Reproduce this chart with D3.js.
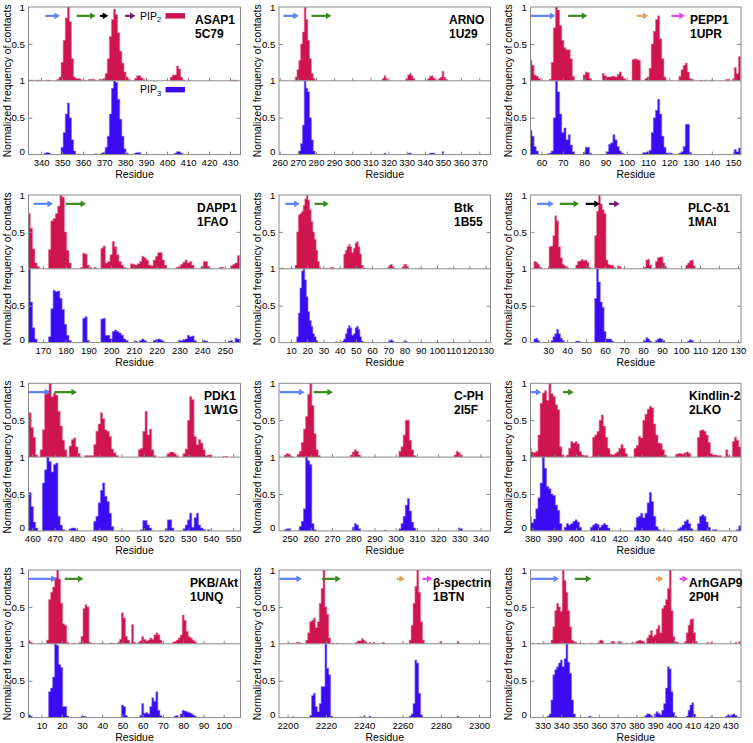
<!DOCTYPE html>
<html><head><meta charset="utf-8">
<script src="https://cdn.jsdelivr.net/npm/d3@7/dist/d3.min.js"></script>
<style>
body{margin:0;background:#fff}
text{font-family:"Liberation Sans",Arial,Helvetica,sans-serif}
</style>
</head><body>
<svg id="c" width="753" height="743" xmlns="http://www.w3.org/2000/svg"></svg>
<script>
// ---------------- DATA ----------------
// [residue, normalized frequency]
const ASAP1_PIP2 = [[335,0.01],[336,0.01],[338,0.01],[339,0.01],[343,0.01],[344,0.01],[348,0.02],[349,0.05],[350,0.25],[351,0.55],[352,0.85],[353,1.0],[354,0.8],[355,0.3],[356,0.05],[357,0.03],[358,0.03],[359,0.02],[361,0.01],[363,0.02],[364,0.02],[365,0.02],[366,0.01],[368,0.02],[369,0.02],[370,0.03],[371,0.1],[372,0.3],[373,0.6],[374,0.83],[375,0.97],[376,0.9],[377,0.65],[378,0.4],[379,0.24],[380,0.12],[381,0.05],[382,0.02],[385,0.03],[386,0.07],[387,0.07],[388,0.04],[389,0.02],[402,0.05],[403,0.08],[404,0.08],[405,0.2],[406,0.16],[407,0.05],[408,0.01],[431,0.01],[432,0.01],[433,0.01]];
const ASAP1_PIP3 = [[342,0.02],[343,0.03],[344,0.02],[350,0.1],[351,0.3],[352,0.55],[353,0.7],[354,0.5],[355,0.2],[356,0.05],[366,0.01],[369,0.02],[370,0.03],[371,0.1],[372,0.25],[373,0.55],[374,0.9],[375,1.0],[376,0.98],[377,0.75],[378,0.48],[379,0.25],[380,0.08],[381,0.02],[385,0.02],[386,0.03],[387,0.03],[404,0.02],[405,0.04],[406,0.04],[407,0.02]];

const ARNO_PIP2 = [[269,0.05],[270,0.15],[271,0.28],[272,0.5],[273,0.66],[274,1.0],[275,0.83],[276,0.55],[277,0.3],[278,0.1],[279,0.03],[317,0.03],[318,0.07],[319,0.03],[330,0.03],[331,0.08],[332,0.1],[333,0.07],[334,0.03],[342,0.03],[343,0.06],[344,0.07],[345,0.04],[346,0.02],[348,0.03],[349,0.05],[350,0.13],[351,0.05],[352,0.02]];
const ARNO_PIP3 = [[271,0.05],[272,0.15],[273,0.4],[274,1.0],[275,0.9],[276,0.85],[277,0.5],[278,0.2],[279,0.05],[318,0.02],[331,0.02],[332,0.02],[343,0.02],[344,0.02],[345,0.02],[350,0.04]];

const PEPP1_PIP2 = [[55,0.28],[56,0.21],[57,0.08],[58,0.06],[59,0.03],[64,0.02],[65,0.25],[66,0.72],[67,1.0],[68,0.96],[69,0.75],[70,0.55],[71,0.45],[72,0.42],[73,0.42],[74,0.3],[75,0.06],[80,0.08],[81,0.12],[82,0.11],[83,0.03],[89,0.1],[90,0.07],[91,0.05],[92,0.05],[93,0.06],[94,0.06],[95,0.05],[96,0.09],[97,0.12],[98,0.06],[99,0.03],[103,0.29],[104,0.3],[105,0.29],[106,0.28],[109,0.03],[110,0.05],[111,0.17],[112,0.5],[113,0.67],[114,0.83],[115,0.88],[116,0.57],[117,0.3],[118,0.05],[125,0.06],[126,0.15],[127,0.21],[128,0.24],[129,0.12],[130,0.03],[131,0.02],[135,0.01],[137,0.01],[140,0.01],[147,0.02],[148,0.02],[150,0.02],[151,0.18],[152,0.1],[153,0.33]];
const PEPP1_PIP3 = [[55,0.33],[56,0.25],[57,0.11],[58,0.05],[63,0.01],[64,0.02],[65,0.05],[66,0.5],[67,1.0],[68,0.85],[69,0.55],[70,0.3],[71,0.36],[72,0.2],[73,0.27],[74,0.13],[75,0.04],[80,0.03],[81,0.1],[82,0.1],[83,0.02],[91,0.04],[92,0.14],[93,0.16],[94,0.27],[95,0.2],[96,0.11],[97,0.05],[98,0.02],[108,0.03],[109,0.03],[110,0.04],[111,0.06],[112,0.3],[113,0.5],[114,0.6],[115,0.75],[116,0.55],[117,0.25],[118,0.1],[119,0.02],[120,0.02],[121,0.02],[125,0.02],[126,0.04],[127,0.11],[128,0.41],[129,0.41],[130,0.03],[151,0.07],[152,0.04],[153,0.09]];

const DAPP1_PIP2 = [[164,0.75],[165,0.55],[166,0.27],[167,0.08],[168,0.03],[173,0.26],[174,0.65],[175,0.68],[176,0.75],[177,0.85],[178,1.0],[179,0.97],[180,0.5],[181,0.25],[182,0.08],[187,0.02],[188,0.21],[189,0.2],[190,0.05],[191,0.02],[193,0.02],[196,0.28],[197,0.31],[198,0.08],[199,0.1],[200,0.19],[201,0.37],[202,0.3],[203,0.19],[204,0.1],[205,0.05],[206,0.02],[209,0.07],[210,0.06],[211,0.05],[212,0.07],[213,0.1],[214,0.17],[215,0.15],[216,0.12],[217,0.05],[218,0.04],[219,0.12],[220,0.17],[221,0.22],[222,0.22],[223,0.12],[224,0.05],[229,0.02],[230,0.03],[231,0.06],[232,0.09],[233,0.12],[234,0.08],[235,0.1],[236,0.05],[240,0.03],[241,0.1],[242,0.1],[243,0.03],[248,0.02],[249,0.02],[253,0.04],[254,0.06],[255,0.08],[256,0.18]];
const DAPP1_PIP3 = [[164,1.0],[165,0.55],[166,0.2],[167,0.05],[173,0.08],[174,0.46],[175,0.71],[176,0.69],[177,0.7],[178,0.6],[179,0.45],[180,0.25],[181,0.1],[182,0.03],[188,0.33],[189,0.35],[190,0.03],[196,0.32],[197,0.33],[198,0.1],[199,0.1],[200,0.05],[201,0.15],[202,0.17],[203,0.15],[204,0.13],[205,0.1],[206,0.05],[207,0.03],[211,0.02],[213,0.03],[214,0.05],[215,0.03],[219,0.03],[220,0.04],[221,0.05],[222,0.04],[223,0.02],[230,0.03],[231,0.03],[232,0.04],[233,0.05],[234,0.1],[235,0.08],[236,0.09],[237,0.03],[241,0.03],[242,0.02],[252,0.02],[253,0.03],[255,0.06],[256,0.05]];

const BTK_PIP2 = [[3,0.01],[4,0.01],[5,0.01],[13,0.05],[14,0.5],[15,0.73],[16,0.75],[17,0.78],[18,0.86],[19,0.95],[20,1.0],[21,0.93],[22,0.8],[23,0.64],[24,0.5],[25,0.4],[26,0.25],[27,0.1],[28,0.02],[32,0.01],[34,0.01],[35,0.02],[36,0.02],[43,0.2],[44,0.25],[45,0.3],[46,0.33],[47,0.3],[48,0.22],[49,0.28],[50,0.35],[51,0.37],[52,0.3],[53,0.2],[54,0.05],[55,0.01],[70,0.02],[71,0.05],[72,0.06],[73,0.03],[79,0.03],[80,0.06],[81,0.06],[82,0.03],[90,0.01],[108,0.01]];
const BTK_PIP3 = [[14,0.08],[15,0.4],[16,0.74],[17,0.97],[18,1.0],[19,0.85],[20,0.62],[21,0.42],[22,0.3],[23,0.22],[24,0.12],[25,0.08],[26,0.03],[38,0.01],[42,0.02],[43,0.05],[44,0.12],[45,0.19],[46,0.23],[47,0.2],[48,0.1],[49,0.12],[50,0.2],[51,0.22],[52,0.18],[53,0.08],[54,0.02],[71,0.03],[72,0.04],[73,0.02],[80,0.02],[81,0.02]];

const PLC_PIP2 = [[23,0.1],[24,0.09],[25,0.06],[26,0.02],[31,0.3],[32,0.31],[33,0.45],[34,0.72],[35,0.65],[36,0.3],[37,0.15],[38,0.06],[39,0.04],[40,0.02],[45,0.05],[46,0.1],[47,0.11],[48,0.13],[49,0.11],[50,0.12],[51,0.09],[52,0.02],[55,0.45],[56,0.78],[57,1.0],[58,0.88],[59,0.8],[60,0.75],[61,0.12],[62,0.06],[63,0.05],[64,0.05],[65,0.02],[67,0.04],[68,0.03],[81,0.02],[82,0.12],[83,0.13],[84,0.05],[87,0.1],[88,0.15],[89,0.16],[90,0.16],[91,0.08],[92,0.03],[103,0.05],[104,0.08],[105,0.11],[106,0.12],[107,0.04],[110,0.01]];
const PLC_PIP3 = [[23,0.05],[24,0.06],[25,0.03],[32,0.03],[33,0.08],[34,0.12],[35,0.18],[36,0.12],[37,0.06],[38,0.03],[45,0.02],[46,0.02],[47,0.01],[55,0.6],[56,1.0],[57,0.82],[58,0.55],[59,0.48],[60,0.15],[61,0.05],[62,0.05],[63,0.05],[64,0.02],[81,0.03],[82,0.07],[83,0.05],[84,0.02],[87,0.03],[88,0.05],[89,0.06],[90,0.05],[91,0.03],[104,0.02],[105,0.04],[106,0.03]];

const PDK1_PIP2 = [[459,0.6],[460,0.4],[461,0.27],[462,0.03],[464,0.1],[465,0.37],[466,0.87],[467,0.9],[468,1.0],[469,0.82],[470,0.87],[471,0.84],[472,0.62],[473,0.42],[474,0.23],[475,0.1],[477,0.15],[478,0.24],[479,0.26],[480,0.14],[481,0.05],[484,0.02],[485,0.02],[486,0.02],[487,0.02],[488,0.17],[489,0.35],[490,0.45],[491,0.6],[492,0.52],[493,0.37],[494,0.35],[495,0.28],[496,0.11],[497,0.06],[498,0.02],[508,0.1],[509,0.12],[510,0.35],[511,0.62],[512,0.3],[513,0.38],[514,0.1],[515,0.02],[521,0.05],[522,0.07],[523,0.07],[524,0.05],[525,0.02],[528,0.05],[529,0.11],[530,0.5],[531,0.82],[532,0.78],[533,0.28],[534,0.17],[535,0.24],[536,0.19],[537,0.1],[538,0.02],[539,0.03],[540,0.03],[546,0.01],[547,0.01]];
const PDK1_PIP3 = [[459,0.52],[460,0.33],[461,0.12],[462,0.04],[465,0.65],[466,0.83],[467,1.0],[468,0.94],[469,0.8],[470,0.9],[471,0.92],[472,0.2],[473,0.08],[474,0.02],[477,0.03],[478,0.04],[479,0.04],[480,0.02],[488,0.13],[489,0.2],[490,0.38],[491,0.55],[492,0.65],[493,0.47],[494,0.4],[495,0.24],[496,0.06],[509,0.02],[510,0.14],[511,0.14],[512,0.08],[513,0.04],[520,0.03],[521,0.15],[522,0.15],[523,0.04],[528,0.03],[529,0.08],[530,0.15],[531,0.24],[532,0.05],[533,0.18],[534,0.24],[535,0.08],[536,0.04],[537,0.02],[539,0.02]];

const CPH_PIP2 = [[248,0.03],[249,0.05],[250,0.04],[251,0.01],[254,0.04],[255,0.08],[256,0.2],[257,0.38],[258,0.55],[259,0.85],[260,1.0],[261,0.7],[262,0.32],[263,0.1],[264,0.02],[279,0.03],[280,0.07],[281,0.1],[282,0.08],[283,0.03],[302,0.08],[303,0.14],[304,0.3],[305,0.5],[306,0.5],[307,0.23],[308,0.1],[309,0.02],[328,0.03],[329,0.08],[330,0.06],[331,0.03]];
const CPH_PIP3 = [[248,0.02],[249,0.03],[250,0.03],[255,0.06],[256,0.13],[257,0.3],[258,1.0],[259,0.95],[260,0.9],[261,0.1],[262,0.02],[280,0.05],[281,0.1],[282,0.08],[283,0.03],[295,0.01],[302,0.03],[303,0.1],[304,0.2],[305,0.35],[306,0.44],[307,0.27],[308,0.12],[309,0.04],[330,0.04],[331,0.03]];

const KINDLIN_PIP2 = [[379,0.12],[380,0.07],[381,0.06],[382,0.08],[383,0.3],[384,0.73],[385,0.87],[386,0.9],[387,0.77],[388,1.0],[389,0.86],[390,0.82],[391,0.71],[392,0.64],[393,0.14],[394,0.03],[396,0.03],[397,0.12],[398,0.21],[399,0.19],[400,0.21],[401,0.18],[402,0.08],[403,0.03],[404,0.02],[405,0.02],[408,0.27],[409,0.3],[410,0.35],[411,0.5],[412,0.57],[413,0.42],[414,0.27],[415,0.12],[416,0.04],[417,0.03],[418,0.05],[419,0.07],[420,0.12],[421,0.17],[422,0.12],[423,0.05],[427,0.12],[428,0.16],[429,0.28],[430,0.26],[431,0.5],[432,0.58],[433,0.65],[434,0.69],[435,0.67],[436,0.45],[437,0.3],[438,0.19],[439,0.18],[440,0.1],[441,0.03],[446,0.04],[447,0.05],[448,0.05],[449,0.04],[450,0.06],[451,0.07],[452,0.05],[456,0.27],[457,0.36],[458,0.37],[459,0.35],[460,0.3],[461,0.2],[462,0.05],[463,0.03],[464,0.03],[465,0.02],[466,0.02],[469,0.1],[470,0.02],[472,0.21],[473,0.27],[474,0.23],[475,0.14]];
const KINDLIN_PIP3 = [[379,0.2],[380,0.11],[381,0.16],[382,0.3],[383,0.45],[384,0.65],[385,1.0],[386,0.85],[387,0.6],[388,0.57],[389,0.5],[390,0.48],[391,0.35],[392,0.28],[393,0.1],[395,0.05],[396,0.1],[397,0.08],[398,0.1],[399,0.13],[400,0.15],[401,0.12],[402,0.05],[407,0.05],[408,0.08],[409,0.1],[410,0.09],[411,0.05],[412,0.08],[413,0.1],[414,0.08],[415,0.04],[427,0.05],[428,0.18],[429,0.2],[430,0.24],[431,0.18],[432,0.24],[433,0.38],[434,0.52],[435,0.4],[436,0.2],[437,0.06],[438,0.02],[447,0.03],[448,0.05],[449,0.08],[450,0.13],[451,0.15],[452,0.1],[453,0.03],[456,0.1],[457,0.2],[458,0.22],[459,0.2],[460,0.12],[461,0.05],[463,0.02],[464,0.02],[474,0.02],[475,0.07]];

const PKB_PIP2 = [[4,0.04],[5,0.02],[13,0.05],[14,0.6],[15,0.7],[16,0.77],[17,0.9],[18,1.0],[19,0.88],[20,0.55],[21,0.27],[22,0.25],[23,0.02],[26,0.01],[29,0.02],[30,0.1],[31,0.48],[32,0.53],[33,0.5],[34,0.02],[40,0.01],[44,0.01],[45,0.01],[48,0.02],[49,0.06],[50,0.42],[51,0.35],[52,0.1],[53,0.05],[54,0.01],[55,0.26],[56,0.02],[58,0.02],[59,0.04],[60,0.1],[61,0.06],[62,0.04],[63,0.05],[64,0.08],[65,0.06],[66,0.12],[67,0.15],[68,0.12],[69,0.05],[75,0.02],[76,0.03],[77,0.05],[78,0.08],[79,0.12],[80,0.39],[81,0.32],[82,0.17],[83,0.1],[84,0.08],[85,0.05],[86,0.03]];
const PKB_PIP3 = [[4,0.04],[5,0.02],[14,0.35],[15,0.4],[16,0.55],[17,1.0],[18,0.98],[19,0.72],[20,0.68],[21,0.15],[22,0.15],[23,0.02],[30,0.02],[31,0.02],[32,0.01],[50,0.17],[51,0.15],[52,0.03],[59,0.03],[60,0.19],[61,0.06],[62,0.07],[63,0.05],[64,0.15],[65,0.27],[66,0.22],[67,0.35],[68,0.1],[69,0.03],[76,0.02],[77,0.03],[79,0.05],[80,0.1],[81,0.09],[82,0.08],[83,0.07],[84,0.06],[85,0.04],[86,0.02]];

const BSPEC_PIP2 = [[2201,0.01],[2203,0.01],[2205,0.02],[2206,0.02],[2207,0.01],[2210,0.05],[2211,0.15],[2212,0.3],[2213,0.32],[2214,0.35],[2215,0.22],[2216,0.3],[2217,0.55],[2218,0.75],[2219,1.0],[2220,0.5],[2221,0.4],[2222,0.08],[2224,0.01],[2226,0.01],[2236,0.02],[2237,0.04],[2238,0.04],[2239,0.07],[2240,0.05],[2241,0.03],[2243,0.02],[2245,0.02],[2250,0.02],[2264,0.05],[2265,0.25],[2266,0.55],[2267,0.78],[2268,1.0],[2269,0.7],[2270,0.3],[2271,0.05],[2280,0.03],[2289,0.03]];
const BSPEC_PIP3 = [[2203,0.01],[2212,0.03],[2213,0.3],[2214,0.33],[2215,0.15],[2216,0.08],[2217,0.19],[2218,0.42],[2219,0.42],[2220,1.0],[2221,0.67],[2222,0.58],[2223,0.02],[2238,0.01],[2240,0.02],[2243,0.02],[2264,0.02],[2265,0.05],[2266,0.19],[2267,0.78],[2268,0.74],[2269,0.33],[2270,0.04],[2289,0.02]];

const ARHGAP9_PIP2 = [[325,0.01],[328,0.01],[331,0.01],[333,0.01],[335,0.05],[336,0.23],[337,0.45],[338,0.55],[339,0.5],[340,0.44],[341,1.0],[342,0.86],[343,0.7],[344,0.45],[345,0.23],[346,0.05],[347,0.03],[348,0.02],[350,0.01],[352,0.01],[356,0.01],[360,0.02],[361,0.05],[362,0.04],[365,0.01],[367,0.03],[368,0.03],[371,0.03],[372,0.02],[375,0.01],[378,0.02],[380,0.03],[381,0.04],[382,0.05],[383,0.04],[384,0.03],[386,0.08],[387,0.12],[388,0.18],[389,0.1],[390,0.12],[391,0.2],[392,0.25],[393,0.15],[394,0.48],[395,0.52],[396,0.6],[397,0.75],[398,1.0],[399,0.45],[400,0.1],[401,0.03],[402,0.02],[406,0.03],[407,0.15],[408,0.25],[409,0.33],[410,0.34],[411,0.15],[412,0.03],[418,0.02],[420,0.02],[433,0.02],[435,0.03]];
const ARHGAP9_PIP3 = [[333,0.02],[334,0.05],[335,0.24],[336,0.58],[337,0.65],[338,0.69],[339,0.74],[340,0.78],[341,0.69],[342,0.8],[343,1.0],[344,0.75],[345,0.6],[346,0.24],[347,0.05],[355,0.02],[356,0.01],[385,0.03],[386,0.05],[387,0.05],[388,0.03],[390,0.05],[391,0.08],[392,0.06],[393,0.04],[394,0.1],[395,0.19],[396,0.4],[397,0.69],[398,0.66],[399,0.35],[400,0.07],[401,0.02],[407,0.02],[408,0.1],[409,0.17],[410,0.2],[411,0.05],[420,0.01],[428,0.02],[429,0.04],[430,0.02],[431,0.04],[432,0.05],[433,0.03],[434,0.01]];

// residue ranges of beta strands drawn as arrows [start, end, strand]
const ASAP1_STRANDS = [[342,349,"b1"],[357,366,"b2"],[368,372,"b3"],[380,385,"b4"]];
const ARNO_STRANDS = [[262,270.5,"b1"],[277.5,288.5,"b2"]];
const PEPP1_STRANDS = [[55,66.5,"b1"],[72.5,81.5,"b2"],[104.7,110.2,"b5"],[121,127.3,"b6"]];
const DAPP1_STRANDS = [[166,174.5,"b1"],[180,189,"b2"]];
const BTK_STRANDS = [[6.5,15.4,"b1"],[24.5,33.3,"b2"]];
const PLC_STRANDS = [[24.2,33,"b1"],[36.1,46.3,"b2"],[49.8,57.2,"b3"],[62.1,67.7,"b4"]];
const PDK1_STRANDS = [[458.3,468,"b1"],[469.9,480,"b2"]];
const CPH_STRANDS = [[245.3,257,"b1"],[261.3,270.4,"b2"]];
const KINDLIN_STRANDS = [[379.1,384.1,"b1"],[394,398.9,"b2"]];
const PKB_STRANDS = [[3.7,17.5,"b1"],[21.5,30.7,"b2"]];
const BSPEC_STRANDS = [[2195.8,2207.5,"b1"],[2218,2227.8,"b2"],[2257,2261.3,"b5"],[2270.5,2275.7,"b6"]];
const ARHGAP9_STRANDS = [[323.6,338.8,"b1"],[347.2,356,"b2"],[390.3,394.5,"b5"],[403,407.5,"b6"]];

// axis extents and tick labels
const ASAP1_X = [334,435],      ASAP1_TICKS = [340,350,360,370,380,390,400,410,420,430];
const ARNO_X = [259.6,376.2],   ARNO_TICKS = [260,270,280,290,300,310,320,330,340,350,360,370];
const PEPP1_X = [54.8,153.7],   PEPP1_TICKS = [60,70,80,90,100,110,120,130,140,150];
const DAPP1_X = [163.7,256.9],  DAPP1_TICKS = [170,180,190,200,210,220,230,240,250];
const BTK_X = [2.6,133],        BTK_TICKS = [10,20,30,40,50,60,70,80,90,100,110,120,130];
const PLC_X = [20.7,131.6],     PLC_TICKS = [30,40,50,60,70,80,90,100,110,120,130];
const PDK1_X = [458.3,553.3],   PDK1_TICKS = [460,470,480,490,500,510,520,530,540,550];
const CPH_X = [245,344.7],      CPH_TICKS = [250,260,270,280,290,300,310,320,330,340];
const KINDLIN_X = [379.1,475.5],KINDLIN_TICKS = [380,390,400,410,420,430,440,450,460,470];
const PKB_X = [3.6,108.3],      PKB_TICKS = [10,20,30,40,50,60,70,80,90,100];
const BSPEC_X = [2195.5,2306],  BSPEC_TICKS = [2200,2220,2240,2260,2280,2300];
const ARHGAP9_X = [323.6,435.7],ARHGAP9_TICKS = [330,340,350,360,370,380,390,400,410,420,430];

const NAMES = ["ASAP1","ARNO","PEPP1","DAPP1","Btk","PLC-δ1","PDK1","C-PH","Kindlin-2","PKB/Akt","β-spectrin","ArhGAP9"];
const PDB = ["5C79","1U29","1UPR","1FAO","1B55","1MAI","1W1G","2I5F","2LKO","1UNQ","1BTN","2P0H"];
const Y_TICKS_TOP = [0.5, 1];
const Y_TICKS_BOTTOM = [0, 0.5, 1];

const panels = [
  {pip2:ASAP1_PIP2, pip3:ASAP1_PIP3, strands:ASAP1_STRANDS, x:ASAP1_X, ticks:ASAP1_TICKS},
  {pip2:ARNO_PIP2, pip3:ARNO_PIP3, strands:ARNO_STRANDS, x:ARNO_X, ticks:ARNO_TICKS},
  {pip2:PEPP1_PIP2, pip3:PEPP1_PIP3, strands:PEPP1_STRANDS, x:PEPP1_X, ticks:PEPP1_TICKS},
  {pip2:DAPP1_PIP2, pip3:DAPP1_PIP3, strands:DAPP1_STRANDS, x:DAPP1_X, ticks:DAPP1_TICKS},
  {pip2:BTK_PIP2, pip3:BTK_PIP3, strands:BTK_STRANDS, x:BTK_X, ticks:BTK_TICKS},
  {pip2:PLC_PIP2, pip3:PLC_PIP3, strands:PLC_STRANDS, x:PLC_X, ticks:PLC_TICKS},
  {pip2:PDK1_PIP2, pip3:PDK1_PIP3, strands:PDK1_STRANDS, x:PDK1_X, ticks:PDK1_TICKS},
  {pip2:CPH_PIP2, pip3:CPH_PIP3, strands:CPH_STRANDS, x:CPH_X, ticks:CPH_TICKS},
  {pip2:KINDLIN_PIP2, pip3:KINDLIN_PIP3, strands:KINDLIN_STRANDS, x:KINDLIN_X, ticks:KINDLIN_TICKS},
  {pip2:PKB_PIP2, pip3:PKB_PIP3, strands:PKB_STRANDS, x:PKB_X, ticks:PKB_TICKS},
  {pip2:BSPEC_PIP2, pip3:BSPEC_PIP3, strands:BSPEC_STRANDS, x:BSPEC_X, ticks:BSPEC_TICKS},
  {pip2:ARHGAP9_PIP2, pip3:ARHGAP9_PIP3, strands:ARHGAP9_STRANDS, x:ARHGAP9_X, ticks:ARHGAP9_TICKS}
];

// ---------------- STYLE / LAYOUT ----------------
const RED = "#cf1550", RED_EDGE = "#e77a98", BLUE = "#3a0cf2", BLUE_EDGE = "#8a78f6", FRAME = "#8a8a8a";
const STRAND_COLORS = {b1:"#5f82f5", b2:"#3b8a1e", b3:"#000000", b4:"#6d1f6d", b5:"#e6a05c", b6:"#e645e6"};
const COLS = [[28.5,240.5],[279,490.5],[530.5,741]];
const TITLE_X = [7, 257, 508];
const ROW_TOPS = [7, 195, 383.3, 570];
const H = 73.8;
const LABEL_X = [195,449,690,197,454,688,204,454,689,190,433,689];
const ARROW_LEVEL = 0.88;

const svg = d3.select("#c");
const defs = svg.append("defs");

// one step-outline polygon per run of consecutive residues
function stepPath(data, x, y, base) {
  const pts = data.slice().sort((a, b) => a[0] - b[0]);
  const pth = d3.path();
  let i = 0;
  while (i < pts.length) {
    let j = i;
    while (j + 1 < pts.length && pts[j + 1][0] === pts[j][0] + 1) j++;
    pth.moveTo(x(pts[i][0] - 0.5), base);
    for (let k = i; k <= j; k++) {
      pth.lineTo(x(pts[k][0] - 0.5), y(pts[k][1]));
      pth.lineTo(x(pts[k][0] + 0.5), y(pts[k][1]));
    }
    pth.lineTo(x(pts[j][0] + 0.5), base);
    pth.closePath();
    i = j + 1;
  }
  return pth.toString();
}

panels.forEach((p, i) => {
  const col = i % 3, row = Math.floor(i / 3);
  const [x0, x1] = COLS[col];
  const top = ROW_TOPS[row], div = top + H, bot = div + H;
  const x = d3.scaleLinear().domain(p.x).range([x0, x1]);
  const yT = d3.scaleLinear().domain([0, 1]).range([div, top]);
  const yB = d3.scaleLinear().domain([0, 1]).range([bot, div]);
  const g = svg.append("g");

  defs.append("clipPath").attr("id", "clipT" + i).append("rect")
    .attr("x", x0).attr("y", top).attr("width", x1 - x0).attr("height", H);
  defs.append("clipPath").attr("id", "clipB" + i).append("rect")
    .attr("x", x0).attr("y", div).attr("width", x1 - x0).attr("height", H);

  g.append("path").attr("clip-path", `url(#clipT${i})`)
    .attr("d", stepPath(p.pip2, x, yT, div))
    .attr("fill", RED).attr("stroke", RED_EDGE).attr("stroke-width", 0.6).attr("stroke-linejoin", "miter");
  g.append("path").attr("clip-path", `url(#clipB${i})`)
    .attr("d", stepPath(p.pip3, x, yB, bot))
    .attr("fill", BLUE).attr("stroke", BLUE_EDGE).attr("stroke-width", 0.6).attr("stroke-linejoin", "miter");

  // frames
  g.append("rect").attr("x", x0).attr("y", top).attr("width", x1 - x0).attr("height", bot - top)
    .attr("fill", "none").attr("stroke", FRAME).attr("stroke-width", 1);
  g.append("line").attr("x1", x0).attr("x2", x1).attr("y1", div).attr("y2", div)
    .attr("stroke", FRAME).attr("stroke-width", 1);

  // x axis (bottom)
  const xa = g.append("g").attr("transform", `translate(0,${bot})`)
    .call(d3.axisBottom(x).tickValues(p.ticks).tickFormat(d => d).tickSizeInner(-3).tickSizeOuter(0).tickPadding(4.5));
  xa.select(".domain").remove();
  xa.selectAll(".tick line").attr("stroke", FRAME);
  xa.selectAll("text").attr("font-size", 9.5).attr("fill", "#000");
  const xt = g.append("g").attr("transform", `translate(0,${div})`)
    .call(d3.axisBottom(x).tickValues(p.ticks).tickFormat("").tickSizeInner(-3).tickSizeOuter(0));
  xt.select(".domain").remove();
  xt.selectAll(".tick line").attr("stroke", FRAME);

  g.append("text").attr("x", (x0 + x1) / 2).attr("y", bot + 23.3)
    .attr("text-anchor", "middle").attr("font-size", 10.5).text("Residue");

  // y axes
  [[yT, Y_TICKS_TOP], [yB, Y_TICKS_BOTTOM]].forEach(([ys, tv]) => {
    const ya = g.append("g").attr("transform", `translate(${x0},0)`)
      .call(d3.axisLeft(ys).tickValues(tv).tickFormat(d => d).tickSizeInner(-4).tickSizeOuter(0).tickPadding(3.5));
    ya.select(".domain").remove();
    ya.selectAll(".tick line").attr("stroke", FRAME).filter(d => d !== 0.5).remove();
    ya.selectAll("text").attr("font-size", 9.8).attr("fill", "#000");
    ya.selectAll(".tick").filter(d => d === 0).select("text").attr("dy", "0em");
    const yr = g.append("g").attr("transform", `translate(${x1},0)`)
      .call(d3.axisRight(ys).tickValues([0.5]).tickFormat("").tickSizeInner(-4).tickSizeOuter(0));
    yr.select(".domain").remove();
    yr.selectAll(".tick line").attr("stroke", FRAME);
  });

  g.append("text")
    .attr("transform", `translate(${TITLE_X[col]},${(top + bot) / 2}) rotate(-90)`)
    .attr("text-anchor", "middle").attr("dy", "0.35em").attr("font-size", 10.3)
    .text("Normalized frequency of contacts");

  // strand arrows
  const ay = yT(ARROW_LEVEL);
  const ag = g.append("g");
  p.strands.forEach(s => {
    const xs = x(s[0]), xe = x(s[1]), c = STRAND_COLORS[s[2]];
    ag.append("line").attr("x1", xs).attr("x2", xe - 4).attr("y1", ay).attr("y2", ay)
      .attr("stroke", c).attr("stroke-width", 2.2);
    ag.append("path").attr("d", `M${xe},${ay}L${xe - 5.5},${ay - 3.4}L${xe - 5.5},${ay + 3.4}Z`).attr("fill", c);
  });

  // labels
  const lx = LABEL_X[i];
  g.append("text").attr("x", lx).attr("y", top + 17).attr("font-size", 12).attr("font-weight", "bold").text(NAMES[i]);
  g.append("text").attr("x", lx).attr("y", top + 30.5).attr("font-size", 12).attr("font-weight", "bold").text(PDB[i]);

  // legend (first panel only)
  if (i === 0) {
    const lg = [["2", RED, yT(0.88)], ["3", BLUE, yB(0.88)]];
    lg.forEach(([sub, c, yy]) => {
      const t = g.append("text").attr("x", x0 + 111.5).attr("y", yy + 3.7).attr("font-size", 10.5);
      t.append("tspan").text("PIP");
      t.append("tspan").attr("font-size", 7.5).attr("dy", 2.5).text(sub);
      g.append("line").attr("x1", x0 + 137).attr("x2", x0 + 156.5).attr("y1", yy).attr("y2", yy)
        .attr("stroke", c).attr("stroke-width", 5.5);
    });
  }
});
</script>
</body></html>
